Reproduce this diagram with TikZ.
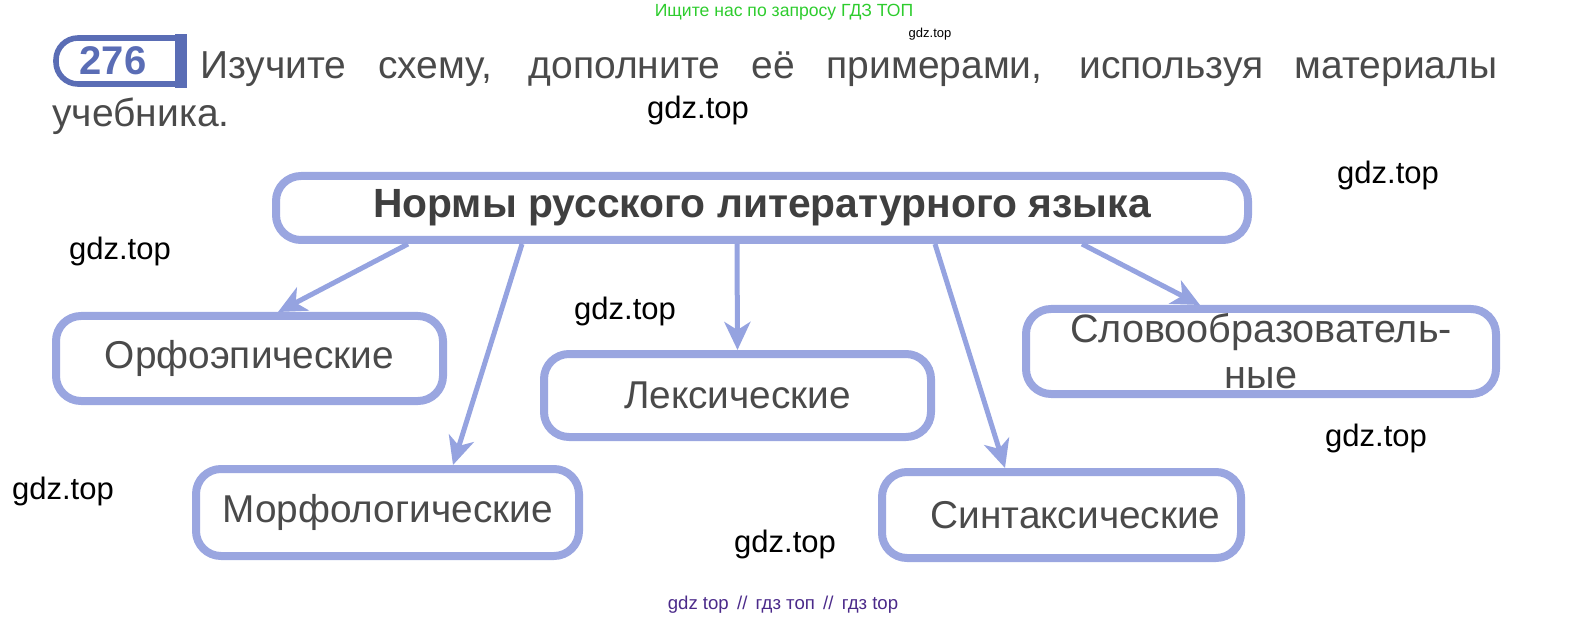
\documentclass[tikz,border=0pt]{standalone}
\usepackage{fontspec}
\setmainfont{Liberation Sans}
\usetikzlibrary{arrows.meta}
\definecolor{boxblue}{HTML}{9AA6E0}
\definecolor{arrblue}{HTML}{95A3E0}
\definecolor{badgeblue}{HTML}{5A6DB5}
\definecolor{txtgray}{HTML}{4A4A4A}
\definecolor{wmgreen}{HTML}{2ECC2E}
\definecolor{wmpurple}{HTML}{4B2A8A}
\tikzset{
  normbox/.style={draw=boxblue, line width=4pt, rounded corners=12.5pt, fill=white,
    text=txtgray, font=\fontsize{19.4}{22.5}\selectfont, align=center, inner sep=0pt},
  conn/.style={draw=arrblue, line width=2.5pt, -{Stealth[length=14pt,width=13pt,inset=4pt]}},
  wm/.style={font=\fontsize{15.5}{18}\selectfont, text=black, inner sep=0pt},
}
\begin{document}
\begin{tikzpicture}[x=0.5pt,y=-0.5pt]
\useasboundingbox (0,0) rectangle (1569,620);
% watermarks
\node[font=\fontsize{8.8}{10}\selectfont, text=wmgreen, inner sep=0pt] (wg) at (784,12) {Ищите нас по запросу ГДЗ ТОП};
\node[font=\fontsize{6.5}{8}\selectfont, inner sep=0pt] (ws) at (930,34) {gdz.top};
\node[font=\fontsize{9.3}{11}\selectfont, text=wmpurple, inner sep=0pt] (wp) at (783,605) {gdz top \,//\, гдз топ \,//\, гдз top};
% badge
\draw[badgeblue, line width=2.8pt, rounded corners=11pt] (178,38) -- (56,38) -- (56,84) -- (178,84);
\fill[badgeblue] (175,34) rectangle (187,88);
\node[font=\bfseries\fontsize{20}{24}\selectfont, text=badgeblue, inner sep=0pt] (num) at (113,61) {276};
% task text
\node[anchor=base west, inner sep=0pt, text=txtgray, font=\fontsize{19.5}{24}\selectfont] (l1) at (200,79)
  {\makebox[648.5pt][s]{Изучите схему, дополните её примерами, используя материалы}};
\node[anchor=base west, inner sep=0pt, text=txtgray, font=\fontsize{19.5}{24}\selectfont] (l2) at (52,127) {учебника.};
% boxes
\node[normbox, minimum width=486pt, minimum height=32pt, font=\bfseries\fontsize{20.4}{22}\selectfont, text=txtgray!85!black] (top) at (762,208) {Нормы русского литературного языка};
\node[normbox, minimum width=193.5pt, minimum height=42.5pt] (orf) at (249.5,358.5) {Орфоэпические};
\node[normbox, minimum width=191.5pt, minimum height=43.5pt] (mor) at (387.5,512.5) {Морфологические};
\node[normbox, minimum width=193.5pt, minimum height=41.5pt] (lex) at (737.5,395.5) {Лексические};
\node[normbox, minimum width=179.5pt, minimum height=43pt] (syn) at (1061.5,515) {\hspace*{14pt}Синтаксические};
\node[normbox, minimum width=235pt, minimum height=42.5pt, font=\fontsize{19.8}{23}\selectfont] (slo) at (1261,351.5) {Словообразователь-\\ные};
% connectors
\draw[conn] ([xshift=-177pt]top.south) -- ([xshift=14.25pt]orf.north);
\draw[conn] ([xshift=-120pt]top.south) -- ([xshift=32.75pt]mor.north);
\draw[conn] ([xshift=-12.5pt]top.south) -- ([xshift=0pt]lex.north);
\draw[conn] ([xshift=86.5pt]top.south) -- ([xshift=-28.25pt]syn.north);
\draw[conn] ([xshift=160pt]top.south) -- ([xshift=-30.5pt]slo.north);
% gdz.top marks
\node[wm] (w1) at (698,110) {gdz.top};
\node[wm] (w2) at (1388,175) {gdz.top};
\node[wm] (w3) at (120,251) {gdz.top};
\node[wm] (w4) at (625,311) {gdz.top};
\node[wm] (w5) at (63,491) {gdz.top};
\node[wm] (w6) at (1376,438) {gdz.top};
\node[wm] (w7) at (785,544) {gdz.top};
\end{tikzpicture}
\end{document}
